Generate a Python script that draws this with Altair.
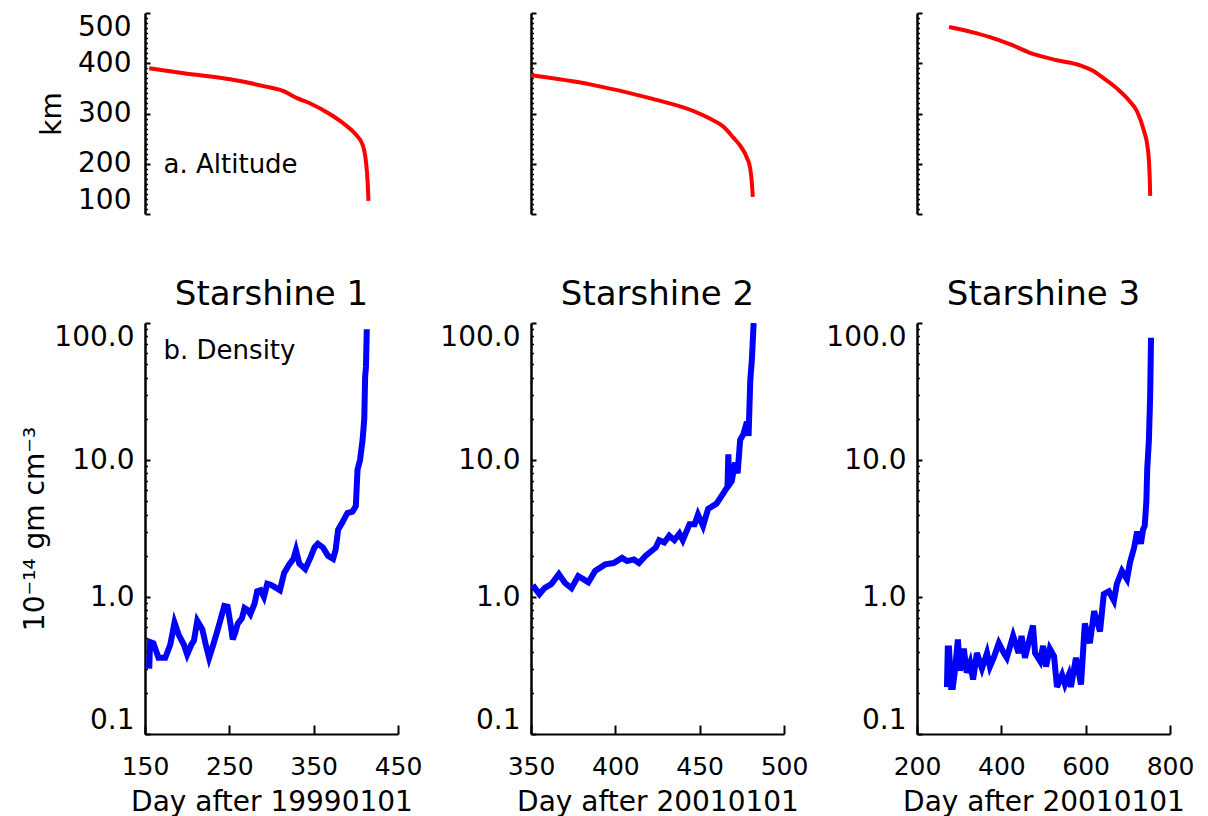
import altair as alt
import pandas as pd

FONT = "DejaVu Sans"

# ---------------- data ----------------
alt1_day = [155, 196, 251, 292, 315, 331, 346, 370, 387, 400, 408, 412, 414, 415]
alt1_km = [390, 380, 368, 354, 344, 330, 320, 298, 278, 258, 238, 204, 164, 126]
alt2_day = [350, 385, 421, 447, 456, 464, 470, 474, 478, 480, 481, 481.5]
alt2_km = [376, 358, 330, 304, 290, 274, 252, 236, 212, 190, 160, 134]
alt3_day = [276, 330, 373, 420, 477, 532, 587, 615, 643, 674, 705, 722, 738, 746, 750, 752, 753]
alt3_km = [472, 462, 452, 438, 418, 406, 396, 386, 370, 350, 324, 304, 266, 238, 206, 170, 136]

den1_day = [155, 156, 160, 166, 174, 180, 185, 190, 196, 200,
            205, 208, 212, 218, 222, 226, 231, 236, 240, 244,
            248, 252, 254, 257, 260, 265, 268, 272, 275, 280,
            283, 287, 291, 295, 299, 304, 310, 315, 321, 326,
            329, 333, 340, 346, 351, 355, 361, 367, 373, 376,
            379, 384, 387, 390, 396, 400, 402, 405, 408, 410,
            411, 412, 413]
den1_val = [0.30, 0.47, 0.46, 0.36, 0.36, 0.45, 0.65, 0.53, 0.45, 0.38,
            0.45, 0.48, 0.67, 0.58, 0.45, 0.36, 0.45, 0.57, 0.70, 0.86,
            0.85, 0.60, 0.49, 0.55, 0.64, 0.70, 0.83, 0.80, 0.75, 0.90,
            1.10, 1.12, 1.00, 1.25, 1.23, 1.18, 1.12, 1.50, 1.73, 1.90,
            2.20, 1.75, 1.60, 1.93, 2.30, 2.45, 2.30, 2.00, 1.90, 2.20,
            3.10, 3.50, 3.80, 4.10, 4.20, 4.60, 8.50, 10.0, 14.0, 20.0,
            40.0, 48.0, 90.0]

den2_day = [351, 355, 358, 362, 366.5, 370, 374, 378, 381, 384,
            388, 394, 399, 404, 407, 411, 414, 418, 424, 426,
            429, 432, 435, 438, 440, 444, 447, 449, 452, 455,
            460, 464, 466.5, 467, 467.5, 469, 471, 472.5, 474, 476,
            478, 479, 480, 481, 482]
den2_val = [1.22, 1.05, 1.16, 1.24, 1.47, 1.27, 1.16, 1.42, 1.35, 1.28,
            1.55, 1.73, 1.77, 1.93, 1.83, 1.88, 1.77, 2.0, 2.3, 2.6,
            2.5, 2.8, 2.6, 2.9, 2.6, 3.4, 3.4, 4.0, 3.3, 4.4,
            4.8, 5.7, 6.4, 11, 6.6, 7.0, 9.6, 8.0, 14, 15.5,
            19, 15, 38, 55, 100]

den3_day = [271, 273, 276, 281, 285, 290, 297, 302, 307, 311,
            318, 326, 333, 342, 354, 366, 373, 382, 394, 406,
            413, 428, 441, 448, 456, 475, 480, 492, 499, 506,
            515, 525, 532, 544, 551, 560, 565, 577, 589, 598,
            610, 620, 634, 643, 655, 667, 674, 686, 698, 705,
            715, 722, 731, 736, 740, 744, 746, 750, 753, 755]
den3_val = [0.22, 0.42, 0.42, 0.22, 0.22, 0.29, 0.49, 0.29, 0.34, 0.42,
            0.28, 0.33, 0.25, 0.39, 0.30, 0.39, 0.31, 0.36, 0.46, 0.39,
            0.36, 0.52, 0.39, 0.52, 0.36, 0.62, 0.39, 0.34, 0.44, 0.31,
            0.42, 0.37, 0.22, 0.27, 0.23, 0.27, 0.22, 0.36, 0.23, 0.64,
            0.46, 0.79, 0.56, 1.05, 1.1, 0.94, 1.25, 1.55, 1.35, 1.78,
            2.3, 3.0, 2.45, 3.1, 3.3, 5.0, 8.6, 14, 30, 78]

x_domains = [[150, 450], [350, 500], [200, 800]]
x_ticks = [[150, 250, 350, 450], [350, 400, 450, 500], [200, 400, 600, 800]]
x_titles = ["Day after 19990101", "Day after 20010101", "Day after 20010101"]
titles = ["Starshine 1", "Starshine 2", "Starshine 3"]

km_major = [100, 200, 300, 400, 500]
km_minor = [v for v in range(110, 500, 10) if v % 100 != 0]
den_major = [0.1, 1, 10, 100]
den_minor = [m * d for d in (0.1, 1, 10) for m in range(2, 10)]

W = 253
H_TOP = 201
H_BOT = 411


def df_of(x, y):
    return pd.DataFrame({"day": x, "v": y, "i": list(range(len(x)))})


def panel(df, xdom, xt, ydom, ytype, ymaj, ymin, color, sw, interp, h,
          ylabels, ytitle, yfmt, ylabpad, ytitlepad, xaxis, xtitle, ann, title):
    xs = alt.Scale(domain=xdom, nice=False, zero=False)
    ys = alt.Scale(domain=ydom, type=ytype, nice=False) if ytype == "log" else \
        alt.Scale(domain=ydom, nice=False, zero=False)

    if xaxis:
        xa_main = alt.Axis(values=xt, format="d", ticks=False, labelPadding=20,
                           labelFlush=False, title=xtitle, titlePadding=9,
                           domainWidth=2, domainColor="black", grid=False,
                           labelFontSize=25, titleFontSize=28, labelColor="black",
                           titleColor="black", titleFontWeight="normal", labelFont=FONT,
                           titleFont=FONT)
        xa_tick = alt.Axis(orient="bottom", values=xt, labels=False, domain=False,
                           ticks=True, tickSize=9, tickWidth=2, tickColor="black",
                           offset=-9, title=None, grid=False)
    else:
        xa_main = None
        xa_tick = None

    ykw = dict(values=ymaj, format=yfmt, ticks=False, labels=ylabels,
               labelPadding=ylabpad, labelFlush=True, domainWidth=2.5,
               domainColor="black", grid=False, labelFontSize=28, labelColor="black",
               labelFont=FONT, titleFont=FONT, titleFontSize=28, titleColor="black",
               titleFontWeight="normal", titlePadding=ytitlepad)
    ykw["title"] = ytitle if ytitle else None
    ya_main = alt.Axis(**ykw)
    ya_major = alt.Axis(orient="left", values=ymaj, labels=False, domain=False,
                        ticks=True, tickSize=5, tickWidth=2, tickColor="black",
                        offset=-5, title=None, grid=False)
    ya_minor = alt.Axis(orient="left", values=ymin, labels=False, domain=False,
                        ticks=True, tickSize=2.5, tickWidth=1.5, tickColor="black",
                        offset=-2.5, title=None, grid=False)

    line = alt.Chart(df).mark_line(color=color, strokeWidth=sw, clip=True,
                                   interpolate=interp)
    main = line.encode(
        x=alt.X("day:Q", scale=xs, axis=xa_main),
        y=alt.Y("v:Q", scale=ys, axis=ya_main),
        order="i:Q",
    )
    ghost = alt.Chart(df).mark_line(opacity=0)
    tick_major = ghost.encode(
        x=alt.X("day:Q", scale=xs, axis=xa_tick),
        y=alt.Y("v:Q", scale=ys, axis=ya_major),
        order="i:Q",
    )
    tick_minor = ghost.encode(
        x=alt.X("day:Q", scale=xs, axis=None),
        y=alt.Y("v:Q", scale=ys, axis=ya_minor),
        order="i:Q",
    )
    layers = [main, tick_major, tick_minor]
    if ann is not None:
        adf = pd.DataFrame({"day": [ann[0]], "v": [ann[1]], "t": [ann[2]]})
        txt = alt.Chart(adf).mark_text(align="left", baseline="middle", font=FONT,
                                       fontSize=26, color="black").encode(
            x=alt.X("day:Q", scale=xs, axis=None),
            y=alt.Y("v:Q", scale=ys, axis=None),
            text="t:N",
        )
        layers.append(txt)
    ch = alt.layer(*layers).resolve_axis(x="independent", y="independent")
    props = dict(width=W, height=h)
    if title:
        props["title"] = alt.TitleParams(title, font=FONT, fontSize=34,
                                         fontWeight="normal", color="black",
                                         anchor="middle", baseline="alphabetic",
                                         frame="group", offset=-17)
    return ch.properties(**props)


alt_days = [alt1_day, alt2_day, alt3_day]
alt_kms = [alt1_km, alt2_km, alt3_km]
den_days = [den1_day, den2_day, den3_day]
den_vals = [den1_val, den2_val, den3_val]

top_row = []
bot_row = []
for k in range(3):
    top_row.append(panel(
        df_of(alt_days[k], alt_kms[k]), x_domains[k], x_ticks[k], [100, 500], "linear",
        km_major, km_minor, "#ff0000", 4, "monotone", H_TOP,
        ylabels=(k == 0), ytitle=("km" if k == 0 else ""), yfmt="d",
        ylabpad=14, ytitlepad=11, xaxis=False, xtitle="",
        ann=((172, 198, "a. Altitude") if k == 0 else None), title=""))
    bot_row.append(panel(
        df_of(den_days[k], den_vals[k]), x_domains[k], x_ticks[k], [0.1, 100], "log",
        den_major, den_minor, "#0000ff", 6, "linear", H_BOT,
        ylabels=True,
        ytitle=("10\u207b\u00b9\u2074  gm  cm\u207b\u00b3" if k == 0 else ""),
        yfmt=".1f", ylabpad=11, ytitlepad=4, xaxis=True, xtitle=x_titles[k],
        ann=((172, 62, "b. Density") if k == 0 else None), title=titles[k]))

chart = alt.concat(*(top_row + bot_row), columns=3,
                   spacing={"row": 109, "column": 133},
                   bounds="flush", align="each").properties(
    padding={"left": 13, "top": 4, "right": 5, "bottom": 5}
).configure_view(stroke=None)

chart.save("out.html", embed_options={"renderer": "svg", "actions": False})
